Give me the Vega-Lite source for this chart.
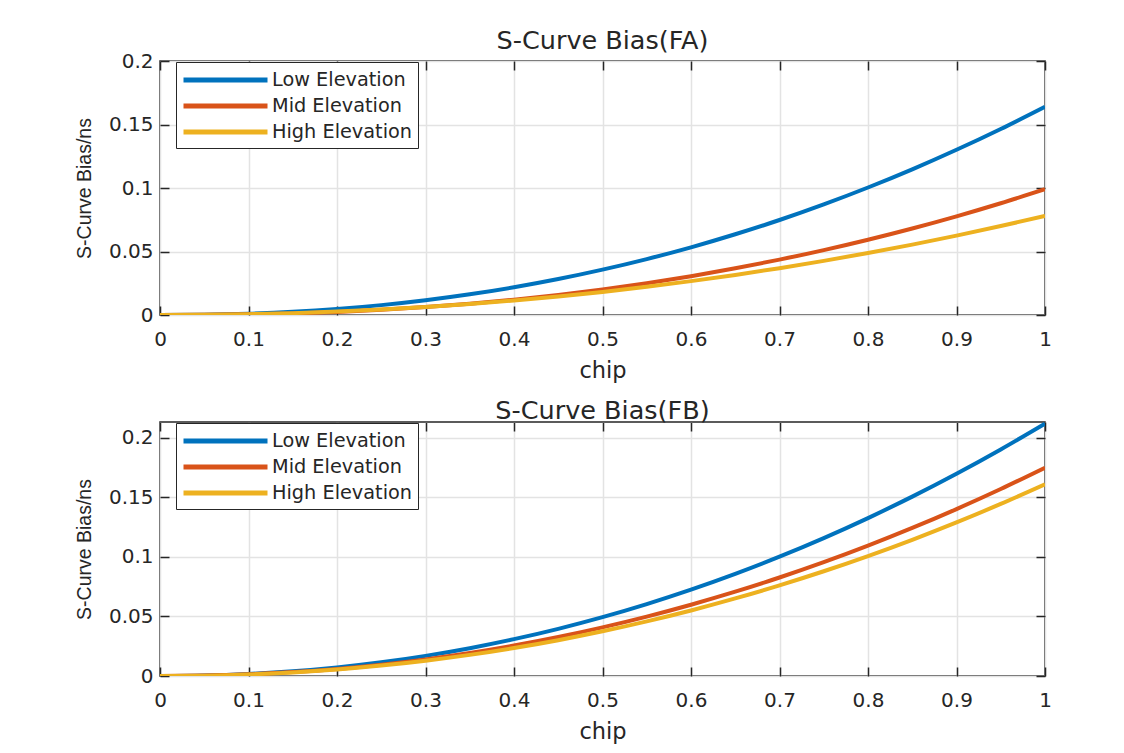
{
  "$schema": "https://vega.github.io/schema/vega-lite/v6.json",
  "background": "white",
  "padding": {"left": 73, "top": 27, "right": 60, "bottom": 5},
  "spacing": 15,
  "config": {
    "font": "DejaVu Sans",
    "view": {"stroke": "#262626", "strokeWidth": 1.5},
    "axis": {
      "domain": false,
      "grid": true,
      "gridColor": "#e3e3e3",
      "gridWidth": 1.5,
      "ticks": true,
      "tickSize": -9,
      "tickColor": "#262626",
      "tickWidth": 1.5,
      "labelFont": "DejaVu Sans",
      "labelFontSize": 20,
      "labelColor": "#262626",
      "titleColor": "#262626",
      "titleFontWeight": "normal",
      "labelFlush": false,
      "labelOverlap": false
    },
    "title": {"font": "DejaVu Sans", "fontSize": 25.5, "fontWeight": "normal", "color": "#262626", "offset": -3},
    "legend": {
      "orient": "none",
      "legendX": 16,
      "legendY": 1,
      "strokeColor": "#262626",
      "fillColor": "white",
      "padding": 5,
      "labelFont": "DejaVu Sans",
      "labelFontSize": 19.3,
      "labelColor": "#262626",
      "symbolType": "M-1,0H7",
      "symbolSize": 441,
      "symbolStrokeWidth": 5,
      "labelOffset": 65,
      "rowPadding": 2,
      "title": null
    }
  },
  "datasets": {
    "fa": [
      {"chip": 0, "bias": 0, "series": "Low Elevation"},
      {"chip": 0.05, "bias": 0.000225, "series": "Low Elevation"},
      {"chip": 0.1, "bias": 0.00103, "series": "Low Elevation"},
      {"chip": 0.15, "bias": 0.00253, "series": "Low Elevation"},
      {"chip": 0.2, "bias": 0.00475, "series": "Low Elevation"},
      {"chip": 0.25, "bias": 0.00777, "series": "Low Elevation"},
      {"chip": 0.3, "bias": 0.0116, "series": "Low Elevation"},
      {"chip": 0.35, "bias": 0.01629, "series": "Low Elevation"},
      {"chip": 0.4, "bias": 0.02184, "series": "Low Elevation"},
      {"chip": 0.45, "bias": 0.0283, "series": "Low Elevation"},
      {"chip": 0.5, "bias": 0.03569, "series": "Low Elevation"},
      {"chip": 0.55, "bias": 0.04402, "series": "Low Elevation"},
      {"chip": 0.6, "bias": 0.0533, "series": "Low Elevation"},
      {"chip": 0.65, "bias": 0.0636, "series": "Low Elevation"},
      {"chip": 0.7, "bias": 0.0748, "series": "Low Elevation"},
      {"chip": 0.75, "bias": 0.0871, "series": "Low Elevation"},
      {"chip": 0.8, "bias": 0.1004, "series": "Low Elevation"},
      {"chip": 0.85, "bias": 0.1147, "series": "Low Elevation"},
      {"chip": 0.9, "bias": 0.1301, "series": "Low Elevation"},
      {"chip": 0.95, "bias": 0.1465, "series": "Low Elevation"},
      {"chip": 1, "bias": 0.164, "series": "Low Elevation"},
      {"chip": 0, "bias": 0, "series": "Mid Elevation"},
      {"chip": 0.05, "bias": 0.0001, "series": "Mid Elevation"},
      {"chip": 0.1, "bias": 0.0005, "series": "Mid Elevation"},
      {"chip": 0.15, "bias": 0.00126, "series": "Mid Elevation"},
      {"chip": 0.2, "bias": 0.00244, "series": "Mid Elevation"},
      {"chip": 0.25, "bias": 0.00408, "series": "Mid Elevation"},
      {"chip": 0.3, "bias": 0.00621, "series": "Mid Elevation"},
      {"chip": 0.35, "bias": 0.00885, "series": "Mid Elevation"},
      {"chip": 0.4, "bias": 0.01203, "series": "Mid Elevation"},
      {"chip": 0.45, "bias": 0.01577, "series": "Mid Elevation"},
      {"chip": 0.5, "bias": 0.02011, "series": "Mid Elevation"},
      {"chip": 0.55, "bias": 0.02504, "series": "Mid Elevation"},
      {"chip": 0.6, "bias": 0.03058, "series": "Mid Elevation"},
      {"chip": 0.65, "bias": 0.03676, "series": "Mid Elevation"},
      {"chip": 0.7, "bias": 0.04359, "series": "Mid Elevation"},
      {"chip": 0.75, "bias": 0.05108, "series": "Mid Elevation"},
      {"chip": 0.8, "bias": 0.05926, "series": "Mid Elevation"},
      {"chip": 0.85, "bias": 0.06812, "series": "Mid Elevation"},
      {"chip": 0.9, "bias": 0.0777, "series": "Mid Elevation"},
      {"chip": 0.95, "bias": 0.088, "series": "Mid Elevation"},
      {"chip": 1, "bias": 0.099, "series": "Mid Elevation"},
      {"chip": 0, "bias": 0, "series": "High Elevation"},
      {"chip": 0.05, "bias": 0.000145, "series": "High Elevation"},
      {"chip": 0.1, "bias": 0.00062, "series": "High Elevation"},
      {"chip": 0.15, "bias": 0.00145, "series": "High Elevation"},
      {"chip": 0.2, "bias": 0.00266, "series": "High Elevation"},
      {"chip": 0.25, "bias": 0.00424, "series": "High Elevation"},
      {"chip": 0.3, "bias": 0.00622, "series": "High Elevation"},
      {"chip": 0.35, "bias": 0.0086, "series": "High Elevation"},
      {"chip": 0.4, "bias": 0.01139, "series": "High Elevation"},
      {"chip": 0.45, "bias": 0.01459, "series": "High Elevation"},
      {"chip": 0.5, "bias": 0.0182, "series": "High Elevation"},
      {"chip": 0.55, "bias": 0.02223, "series": "High Elevation"},
      {"chip": 0.6, "bias": 0.02668, "series": "High Elevation"},
      {"chip": 0.65, "bias": 0.03157, "series": "High Elevation"},
      {"chip": 0.7, "bias": 0.03689, "series": "High Elevation"},
      {"chip": 0.75, "bias": 0.04263, "series": "High Elevation"},
      {"chip": 0.8, "bias": 0.04882, "series": "High Elevation"},
      {"chip": 0.85, "bias": 0.05544, "series": "High Elevation"},
      {"chip": 0.9, "bias": 0.06252, "series": "High Elevation"},
      {"chip": 0.95, "bias": 0.07004, "series": "High Elevation"},
      {"chip": 1, "bias": 0.078, "series": "High Elevation"}
    ],
    "fb": [
      {"chip": 0, "bias": 0, "series": "Low Elevation"},
      {"chip": 0.05, "bias": 0.000394, "series": "Low Elevation"},
      {"chip": 0.1, "bias": 0.00168, "series": "Low Elevation"},
      {"chip": 0.15, "bias": 0.00395, "series": "Low Elevation"},
      {"chip": 0.2, "bias": 0.00722, "series": "Low Elevation"},
      {"chip": 0.25, "bias": 0.01153, "series": "Low Elevation"},
      {"chip": 0.3, "bias": 0.01692, "series": "Low Elevation"},
      {"chip": 0.35, "bias": 0.02338, "series": "Low Elevation"},
      {"chip": 0.4, "bias": 0.03095, "series": "Low Elevation"},
      {"chip": 0.45, "bias": 0.03964, "series": "Low Elevation"},
      {"chip": 0.5, "bias": 0.04946, "series": "Low Elevation"},
      {"chip": 0.55, "bias": 0.06042, "series": "Low Elevation"},
      {"chip": 0.6, "bias": 0.07253, "series": "Low Elevation"},
      {"chip": 0.65, "bias": 0.0858, "series": "Low Elevation"},
      {"chip": 0.7, "bias": 0.10025, "series": "Low Elevation"},
      {"chip": 0.75, "bias": 0.11586, "series": "Low Elevation"},
      {"chip": 0.8, "bias": 0.13269, "series": "Low Elevation"},
      {"chip": 0.85, "bias": 0.15069, "series": "Low Elevation"},
      {"chip": 0.9, "bias": 0.16992, "series": "Low Elevation"},
      {"chip": 0.95, "bias": 0.19035, "series": "Low Elevation"},
      {"chip": 1, "bias": 0.212, "series": "Low Elevation"},
      {"chip": 0, "bias": 0, "series": "Mid Elevation"},
      {"chip": 0.05, "bias": 0.000325, "series": "Mid Elevation"},
      {"chip": 0.1, "bias": 0.00139, "series": "Mid Elevation"},
      {"chip": 0.15, "bias": 0.00326, "series": "Mid Elevation"},
      {"chip": 0.2, "bias": 0.00596, "series": "Mid Elevation"},
      {"chip": 0.25, "bias": 0.00952, "series": "Mid Elevation"},
      {"chip": 0.3, "bias": 0.01396, "series": "Mid Elevation"},
      {"chip": 0.35, "bias": 0.0193, "series": "Mid Elevation"},
      {"chip": 0.4, "bias": 0.02555, "series": "Mid Elevation"},
      {"chip": 0.45, "bias": 0.03273, "series": "Mid Elevation"},
      {"chip": 0.5, "bias": 0.04083, "series": "Mid Elevation"},
      {"chip": 0.55, "bias": 0.04988, "series": "Mid Elevation"},
      {"chip": 0.6, "bias": 0.05987, "series": "Mid Elevation"},
      {"chip": 0.65, "bias": 0.07082, "series": "Mid Elevation"},
      {"chip": 0.7, "bias": 0.08276, "series": "Mid Elevation"},
      {"chip": 0.75, "bias": 0.09564, "series": "Mid Elevation"},
      {"chip": 0.8, "bias": 0.10953, "series": "Mid Elevation"},
      {"chip": 0.85, "bias": 0.12439, "series": "Mid Elevation"},
      {"chip": 0.9, "bias": 0.14026, "series": "Mid Elevation"},
      {"chip": 0.95, "bias": 0.15713, "series": "Mid Elevation"},
      {"chip": 1, "bias": 0.175, "series": "Mid Elevation"},
      {"chip": 0, "bias": 0, "series": "High Elevation"},
      {"chip": 0.05, "bias": 0.0003, "series": "High Elevation"},
      {"chip": 0.1, "bias": 0.00128, "series": "High Elevation"},
      {"chip": 0.15, "bias": 0.003, "series": "High Elevation"},
      {"chip": 0.2, "bias": 0.00548, "series": "High Elevation"},
      {"chip": 0.25, "bias": 0.00876, "series": "High Elevation"},
      {"chip": 0.3, "bias": 0.01285, "series": "High Elevation"},
      {"chip": 0.35, "bias": 0.01776, "series": "High Elevation"},
      {"chip": 0.4, "bias": 0.02351, "series": "High Elevation"},
      {"chip": 0.45, "bias": 0.03011, "series": "High Elevation"},
      {"chip": 0.5, "bias": 0.03756, "series": "High Elevation"},
      {"chip": 0.55, "bias": 0.04589, "series": "High Elevation"},
      {"chip": 0.6, "bias": 0.05508, "series": "High Elevation"},
      {"chip": 0.65, "bias": 0.06516, "series": "High Elevation"},
      {"chip": 0.7, "bias": 0.07614, "series": "High Elevation"},
      {"chip": 0.75, "bias": 0.08799, "series": "High Elevation"},
      {"chip": 0.8, "bias": 0.10077, "series": "High Elevation"},
      {"chip": 0.85, "bias": 0.11444, "series": "High Elevation"},
      {"chip": 0.9, "bias": 0.12904, "series": "High Elevation"},
      {"chip": 0.95, "bias": 0.14456, "series": "High Elevation"},
      {"chip": 1, "bias": 0.161, "series": "High Elevation"}
    ]
  },
  "vconcat": [
    {
      "title": "S-Curve Bias(FA)",
      "width": 885,
      "height": 254,
      "data": {"name": "fa"},
      "layer": [
        {
          "mark": {"type": "line", "strokeWidth": 4, "interpolate": "monotone", "clip": true},
          "encoding": {
            "x": {"field": "chip", "type": "quantitative", "scale": {"domain": [0, 1], "nice": false, "zero": false},
              "axis": {"orient": "bottom", "values": [0, 0.1, 0.2, 0.3, 0.4, 0.5, 0.6, 0.7, 0.8, 0.9, 1], "labelExpr": "'' + datum.value", "labelPadding": 23, "title": "chip", "titleFont": "DejaVu Sans", "titleFontSize": 22.5, "titlePadding": 10}},
            "y": {"field": "bias", "type": "quantitative", "scale": {"domain": [0, 0.2], "nice": false},
              "axis": {"orient": "left", "values": [0, 0.05, 0.1, 0.15, 0.2], "labelExpr": "'' + datum.value", "labelPadding": 16, "title": "S-Curve Bias/ns", "titleFont": "Liberation Sans", "titleFontSize": 19.5, "titlePadding": 14}},
            "color": {"field": "series", "type": "nominal", "sort": ["Low Elevation", "Mid Elevation", "High Elevation"],
              "scale": {"domain": ["Low Elevation", "Mid Elevation", "High Elevation"], "range": ["#0072BD", "#D95319", "#EDB120"]}}
          }
        },
        {
          "mark": {"type": "line", "opacity": 0},
          "encoding": {
            "x": {"field": "chip", "type": "quantitative", "scale": {"domain": [0, 1], "nice": false, "zero": false},
              "axis": {"orient": "top", "values": [0, 0.1, 0.2, 0.3, 0.4, 0.5, 0.6, 0.7, 0.8, 0.9, 1], "labels": false, "grid": false, "title": null}},
            "y": {"field": "bias", "type": "quantitative", "scale": {"domain": [0, 0.2], "nice": false},
              "axis": {"orient": "right", "values": [0, 0.05, 0.1, 0.15, 0.2], "labels": false, "grid": false, "title": null}}
          }
        }
      ],
      "resolve": {"axis": {"x": "independent", "y": "independent"}}
    },
    {
      "title": "S-Curve Bias(FB)",
      "width": 885,
      "height": 254,
      "data": {"name": "fb"},
      "layer": [
        {
          "mark": {"type": "line", "strokeWidth": 4, "interpolate": "monotone", "clip": true},
          "encoding": {
            "x": {"field": "chip", "type": "quantitative", "scale": {"domain": [0, 1], "nice": false, "zero": false},
              "axis": {"orient": "bottom", "values": [0, 0.1, 0.2, 0.3, 0.4, 0.5, 0.6, 0.7, 0.8, 0.9, 1], "labelExpr": "'' + datum.value", "labelPadding": 23, "title": "chip", "titleFont": "DejaVu Sans", "titleFontSize": 22.5, "titlePadding": 10}},
            "y": {"field": "bias", "type": "quantitative", "scale": {"domain": [0, 0.2134], "nice": false},
              "axis": {"orient": "left", "values": [0, 0.05, 0.1, 0.15, 0.2], "labelExpr": "'' + datum.value", "labelPadding": 16, "title": "S-Curve Bias/ns", "titleFont": "Liberation Sans", "titleFontSize": 19.5, "titlePadding": 14}},
            "color": {"field": "series", "type": "nominal", "sort": ["Low Elevation", "Mid Elevation", "High Elevation"],
              "scale": {"domain": ["Low Elevation", "Mid Elevation", "High Elevation"], "range": ["#0072BD", "#D95319", "#EDB120"]}}
          }
        },
        {
          "mark": {"type": "line", "opacity": 0},
          "encoding": {
            "x": {"field": "chip", "type": "quantitative", "scale": {"domain": [0, 1], "nice": false, "zero": false},
              "axis": {"orient": "top", "values": [0, 0.1, 0.2, 0.3, 0.4, 0.5, 0.6, 0.7, 0.8, 0.9, 1], "labels": false, "grid": false, "title": null}},
            "y": {"field": "bias", "type": "quantitative", "scale": {"domain": [0, 0.2134], "nice": false},
              "axis": {"orient": "right", "values": [0, 0.05, 0.1, 0.15, 0.2], "labels": false, "grid": false, "title": null}}
          }
        }
      ],
      "resolve": {"axis": {"x": "independent", "y": "independent"}}
    }
  ],
  "resolve": {"legend": {"color": "independent"}, "scale": {"color": "independent"}}
}
